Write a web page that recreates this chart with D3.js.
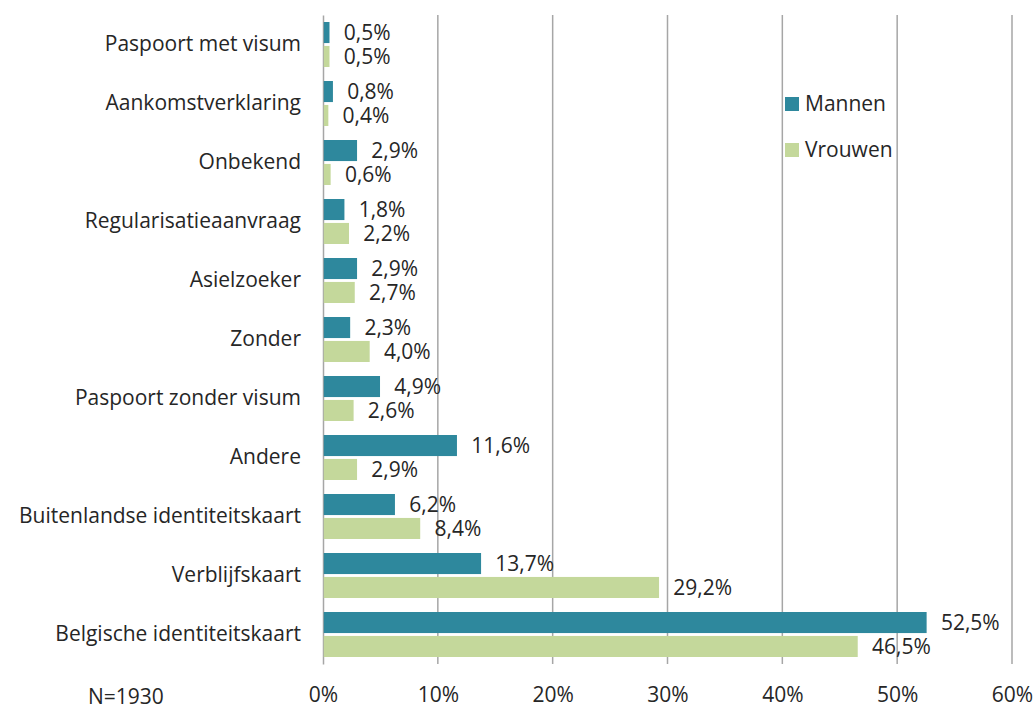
<!DOCTYPE html>
<html>
<head>
<meta charset="utf-8">
<script src="https://cdn.jsdelivr.net/npm/d3@7"></script>
<style>
  body { margin: 0; background: #fff; }
  svg text { font-family: "Open Sans", sans-serif; fill: #262626; }
</style>
</head>
<body>
<div class="svg-target"></div>
<script>
const categories = [
    'Paspoort met visum',
    'Aankomstverklaring',
    'Onbekend',
    'Regularisatieaanvraag',
    'Asielzoeker',
    'Zonder',
    'Paspoort zonder visum',
    'Andere',
    'Buitenlandse identiteitskaart',
    'Verblijfskaart',
    'Belgische identiteitskaart'
];
const mannen = [0.5, 0.8, 2.9, 1.8, 2.9, 2.3, 4.9, 11.6, 6.2, 13.7, 52.5];
const vrouwen = [0.5, 0.4, 0.6, 2.2, 2.7, 4.0, 2.6, 2.9, 8.4, 29.2, 46.5];
const seriesNames = ['Mannen', 'Vrouwen'];
const xTicks = [0, 10, 20, 30, 40, 50, 60];
const note = 'N=1930';

const w = 1035;
const h = 711;
const colors = ['#2e889d', '#c4d89b'];
const fontSize = 21;

const fmt = v => d3.format('.1f')(v).replace('.', ',') + '%';

const svg = d3.select('.svg-target')
    .append('svg')
    .attr('width', w)
    .attr('height', h);

// scales
const xScale = d3.scaleLinear()
    .domain([0, 60])
    .range([323, 1012]);

const yScale = d3.scaleBand()
    .domain(categories)
    .range([15, 664]);

const inner = d3.scaleBand()
    .domain(seriesNames)
    .range([7, yScale.bandwidth() - 7])
    .paddingInner(0.12);

// grid
svg.append('g')
    .selectAll('line')
    .data(xTicks.slice(1))
    .enter()
    .append('line')
        .attr('x1', d => xScale(d))
        .attr('x2', d => xScale(d))
        .attr('y1', 15)
        .attr('y2', 664)
        .attr('stroke', '#a6a6a6')
        .attr('stroke-width', 1.5);

// x axis labels
const xAxis = d3.axisBottom(xScale)
    .tickValues(xTicks)
    .tickSize(0)
    .tickPadding(0)
    .tickFormat(d => d + '%');

const gx = svg.append('g')
    .attr('transform', 'translate(0, 702)')
    .call(xAxis);
gx.select('.domain').remove();
gx.selectAll('text')
    .attr('dy', 0)
    .attr('font-size', fontSize)
    .attr('font-family', null);

// y axis
const yAxis = d3.axisLeft(yScale)
    .tickSize(0)
    .tickPadding(22);

const gy = svg.append('g')
    .attr('transform', 'translate(323, 0)')
    .call(yAxis);
gy.select('.domain')
    .attr('stroke', '#a6a6a6')
    .attr('stroke-width', 1.5);
gy.selectAll('text')
    .attr('font-size', fontSize)
    .attr('font-family', null);

// bars
const rows = categories.map((c, i) => ({ cat: c, values: [mannen[i], vrouwen[i]] }));

const group = svg.selectAll('.row')
    .data(rows)
    .enter()
    .append('g')
        .attr('class', 'row')
        .attr('transform', d => `translate(0, ${yScale(d.cat)})`);

group.selectAll('rect')
    .data(d => d.values.map((v, j) => ({ key: seriesNames[j], v: v, j: j })))
    .enter()
    .append('rect')
        .attr('x', xScale(0) + 0.75)
        .attr('y', d => inner(d.key))
        .attr('width', d => xScale(d.v) - xScale(0))
        .attr('height', inner.bandwidth())
        .attr('fill', d => colors[d.j]);

group.selectAll('text.val')
    .data(d => d.values.map((v, j) => ({ key: seriesNames[j], v: v })))
    .enter()
    .append('text')
        .attr('class', 'val')
        .attr('x', d => xScale(d.v) + 15)
        .attr('y', d => inner(d.key) + inner.bandwidth() / 2)
        .attr('dy', '0.35em')
        .attr('font-size', fontSize)
        .text(d => fmt(d.v));

// legend
const legend = svg.append('g')
    .selectAll('g')
    .data(seriesNames)
    .enter()
    .append('g')
        .attr('transform', (d, i) => `translate(785, ${97 + i * 46})`);

legend.append('rect')
    .attr('width', 14)
    .attr('height', 14)
    .attr('fill', (d, i) => colors[i]);

legend.append('text')
    .attr('x', 20)
    .attr('y', 7)
    .attr('dy', '0.35em')
    .attr('font-size', fontSize)
    .text(d => d);

// note
svg.append('text')
    .attr('x', 88)
    .attr('y', 704)
    .attr('font-size', fontSize)
    .text(note);
</script>
</body>
</html>
